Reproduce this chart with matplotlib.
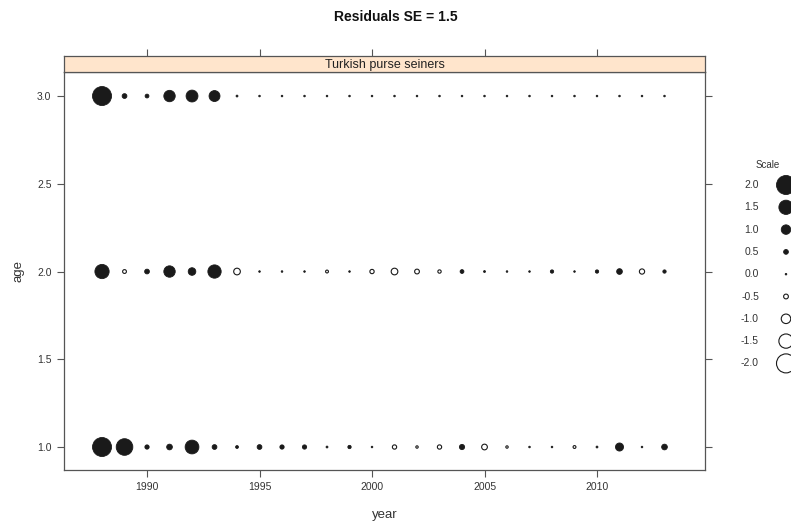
import matplotlib
matplotlib.use("Agg")
import matplotlib.pyplot as plt
import numpy as np

plt.rcParams["font.family"] = ["Liberation Sans", "DejaVu Sans"]

# residual values
years = list(range(1988, 2014))
res_age1 = [2.0, 1.75, 0.45, 0.6, 1.45, 0.5, 0.3, 0.5, 0.45, 0.45, 0.2, 0.35, 0.1,
            -0.45, -0.25, -0.45, 0.55, -0.6, -0.25, 0.1, 0.1, -0.3, 0.2, 0.85, 0.1, 0.6]
res_age2 = [1.5, -0.4, 0.5, 1.2, 0.8, 1.4, -0.7, 0.05, 0.05, 0.1, -0.3, 0.05, -0.45,
            -0.7, -0.5, -0.35, 0.4, 0.2, 0.15, 0.15, 0.35, 0.05, 0.35, 0.6, -0.55, 0.35]
res_age3 = [2.0, 0.5, 0.4, 1.2, 1.25, 1.15, 0.2, 0.1, 0.1, 0.1, 0.1, 0.1, 0.1,
            0.1, 0.1, 0.1, 0.15, 0.1, 0.1, 0.15, 0.15, 0.1, 0.15, 0.15, 0.1, 0.15]
ages = [1, 2, 3]
scale_vals = [2.0, 1.5, 1.0, 0.5, 0.0, -0.5, -1.0, -1.5, -2.0]

FRAME = "#555555"
TXT = "#333333"


def bubble_size(v):
    # diameter in px -> area in pt^2
    d = np.maximum(np.abs(np.asarray(v)) * 9.5, 1.6) * 0.72
    return d ** 2


def draw_bubbles(ax, x, y, v, **kw):
    v = np.asarray(v)
    x = np.asarray(x)
    y = np.asarray(y)
    pos = v >= 0
    ax.scatter(x[pos], y[pos], s=bubble_size(v[pos]), c="#1a1a1a",
               edgecolors="#1a1a1a", linewidths=0.6, **kw)
    ax.scatter(x[~pos], y[~pos], s=bubble_size(v[~pos]), facecolors="white",
               edgecolors="#1a1a1a", linewidths=0.8, **kw)


fig = plt.figure(figsize=(7.91, 5.25), dpi=100)
W, H = 791, 525
L, R, T, B = 64, 705, 72, 470
ax = fig.add_axes([L / W, 1 - B / H, (R - L) / W, (B - T) / H])

for a, r in zip(ages, [res_age1, res_age2, res_age3]):
    draw_bubbles(ax, years, [a] * len(years), r, zorder=3)

ax.set_xlim(1986.31, 2014.8)
ax.set_ylim(0.869, 3.137)
ax.set_xticks([1990, 1995, 2000, 2005, 2010])
ax.set_yticks([1.0, 1.5, 2.0, 2.5, 3.0])
ax.set_yticklabels(["1.0", "1.5", "2.0", "2.5", "3.0"])
ax.tick_params(direction="out", length=5, width=0.8, color=FRAME, labelcolor=TXT,
               labelsize=7.5, right=True, pad=4)
for s in ax.spines.values():
    s.set_color(FRAME)
    s.set_linewidth(0.9)
ax.set_xlabel("year", fontsize=9.5, color=TXT, labelpad=12)
ax.set_ylabel("age", fontsize=9.5, color=TXT, labelpad=9)

# strip
sax = fig.add_axes([L / W, 1 - T / H, (R - L) / W, 16 / H])
sax.set_facecolor("#ffe5cc")
sax.set_xlim(ax.get_xlim())
sax.set_yticks([])
sax.set_xticks([1990, 1995, 2000, 2005, 2010])
sax.tick_params(axis="x", bottom=False, labelbottom=False, top=True,
                direction="out", length=5, width=0.8, color=FRAME)
for s in sax.spines.values():
    s.set_color(FRAME)
    s.set_linewidth(0.9)
sax.text(0.5, 0.45, "Turkish purse seiners", transform=sax.transAxes,
         ha="center", va="center", fontsize=9, color="#222222")

fig.text(0.5, 1 - 17 / H, "Residuals SE = 1.5", ha="center", va="center",
         fontsize=10, fontweight="bold", color="#111111")

# legend in pixel coordinates
lax = fig.add_axes([0, 0, 1, 1], facecolor="none")
lax.set_xlim(0, W)
lax.set_ylim(H, 0)
lax.axis("off")
ly = 185 + np.arange(len(scale_vals)) * 22.3
lax.text(768, 165, "Scale", ha="center", va="center", fontsize=7, color=TXT)
for yy, v in zip(ly, scale_vals):
    lax.text(759, yy, f"{v:.1f}", ha="right", va="center", fontsize=7.5, color=TXT)
draw_bubbles(lax, [786] * len(scale_vals), ly, scale_vals, clip_on=False, zorder=3)

fig.savefig("out.png", dpi=100)
